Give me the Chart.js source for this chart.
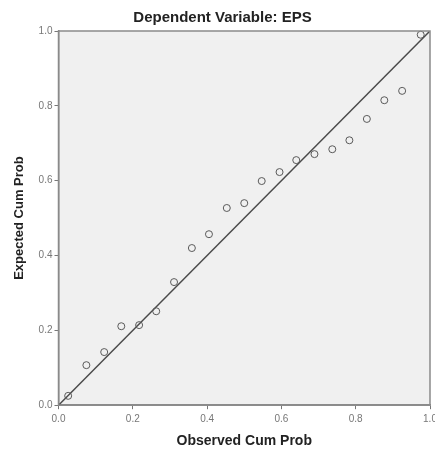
<!DOCTYPE html>
<html>
<head>
  <title>Normal P-P Plot</title>
  <script src="https://cdn.jsdelivr.net/npm/chart.js"></script>
  <style>
    body { margin: 0; background: #fff; }
  </style>
</head>
<body>
  <canvas id="ppChart" width="435" height="450"></canvas>

  <script>
    // observed vs expected cumulative probabilities
    const observed = [0.026, 0.075, 0.123, 0.169, 0.217, 0.263, 0.311, 0.359, 0.405, 0.453, 0.500,
                      0.547, 0.595, 0.640, 0.689, 0.737, 0.783, 0.830, 0.877, 0.925, 0.975];
    const expected = [0.025, 0.107, 0.142, 0.211, 0.214, 0.251, 0.329, 0.420, 0.457, 0.527, 0.540,
                      0.599, 0.623, 0.655, 0.671, 0.684, 0.708, 0.765, 0.815, 0.840, 0.990];
    const refLine = [0, 1];
    const tickValues = [0, 0.2, 0.4, 0.6, 0.8, 1.0];

    const FONT = "'Liberation Sans', Arial, sans-serif";

    // grey plot background + frame like SPSS
    const plotFrame = {
      id: 'plotFrame',
      beforeDraw(chart) {
        const { ctx, chartArea: a } = chart;
        ctx.save();
        ctx.fillStyle = '#f0f0f0';
        ctx.fillRect(a.left, a.top, a.width, a.height);
        ctx.restore();
      },
      afterDatasetsDraw(chart) {
        const { ctx, chartArea: a } = chart;
        ctx.save();
        ctx.strokeStyle = '#8a8a8a';
        ctx.lineWidth = 1.5;
        ctx.strokeRect(a.left, a.top, a.width, a.height);
        ctx.restore();
      }
    };

    const axisCommon = {
      type: 'linear',
      min: 0,
      max: 1,
      afterBuildTicks: axis => { axis.ticks = tickValues.map(v => ({ value: v })); },
      grid: { drawOnChartArea: false, drawTicks: true, tickLength: 4, color: '#777' },
      border: { display: true, color: '#8a8a8a', width: 1.5 },
      ticks: {
        font: { family: FONT, size: 10 },
        color: '#777',
        padding: 2,
        callback: v => v.toFixed(1)
      }
    };

    // let the last "1.0" run off the right edge, as in the original
    function noRightOverhang(scale) {
      scale.paddingRight = 0;
      if (scale._margins) scale._margins.right = 0;
      scale.getPadding = () => ({ left: scale.paddingLeft || 0, top: 0, right: 0, bottom: 0 });
    }

    new Chart(document.getElementById('ppChart'), {
      type: 'scatter',
      data: {
        datasets: [
          {
            label: 'Expected',
            data: observed.map((o, i) => ({ x: o, y: expected[i] })),
            showLine: false,
            pointRadius: 3.5,
            pointBorderWidth: 1,
            pointBorderColor: '#5a5a5a',
            pointBackgroundColor: 'rgba(0,0,0,0)',
            clip: false
          },
          {
            label: 'Reference',
            type: 'line',
            data: refLine.map(v => ({ x: v, y: v })),
            borderColor: '#4a4a4a',
            borderWidth: 1.5,
            pointRadius: 0,
            fill: false
          }
        ]
      },
      options: {
        responsive: false,
        animation: false,
        layout: { padding: { top: 0, right: 2, bottom: 0, left: 12 } },
        plugins: {
          legend: { display: false },
          tooltip: { enabled: false },
          title: {
            display: true,
            text: 'Dependent Variable: EPS',
            color: '#222',
            font: { family: FONT, size: 15, weight: 'bold' },
            padding: { top: 9, bottom: 4 }
          }
        },
        scales: {
          x: {
            ...axisCommon,
            ticks: { ...axisCommon.ticks, padding: 4 },
            afterFit: noRightOverhang,
            title: {
              display: true,
              text: 'Observed Cum Prob',
              color: '#222',
              font: { family: FONT, size: 14, weight: 'bold' },
              padding: { top: 4, bottom: 0 }
            }
          },
          y: {
            ...axisCommon,
            title: {
              display: true,
              text: 'Expected Cum Prob',
              color: '#222',
              font: { family: FONT, size: 13, weight: 'bold' },
              padding: { top: 0, bottom: 9 }
            }
          }
        }
      },
      plugins: [plotFrame]
    });
  </script>
</body>
</html>
